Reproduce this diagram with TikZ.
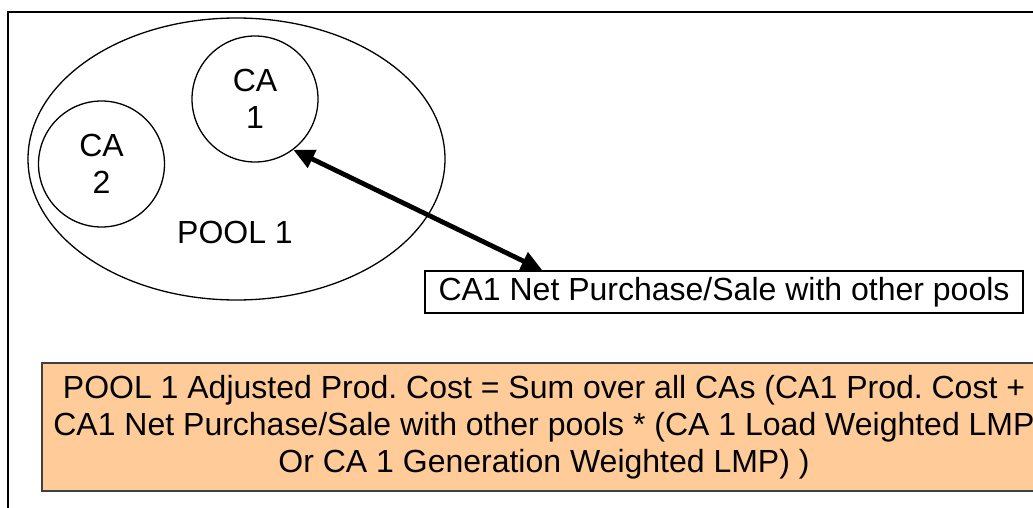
\documentclass[tikz,border=0pt]{standalone}
\usepackage{fontspec}
\setmainfont{Liberation Sans}
\usetikzlibrary{arrows.meta,calc,shapes.geometric}
\definecolor{poolfill}{RGB}{255,204,153}
\frenchspacing
\begin{document}
\begin{tikzpicture}[x=1pt,y=-1pt,
  every node/.style={font=\fontsize{32}{37}\selectfont, inner sep=0pt},
  area/.style={draw, circle, line width=1.3pt, minimum size=126pt, align=center},
  poolshape/.style={draw, ellipse, line width=1.3pt, minimum width=417pt, minimum height=282pt},
  notebox/.style={draw, line width=1.5pt, minimum width=598pt, minimum height=42pt},
  formula/.style={draw=black!75, fill=poolfill, line width=1.5pt, minimum width=1004pt,
    minimum height=128pt, align=center},
  flow/.style={line width=4.8pt, {Triangle[length=21pt,width=19pt]}-{Triangle[length=21pt,width=19pt]}}
]
\useasboundingbox (0,0) rectangle (1033,508);
\clip (0,0) rectangle (1033,508);

% outer frame
\draw[line width=2.2pt] (8,12) rectangle (1100,560);

% pool with its control areas
\node[poolshape] (pool) at (236.5,159) {};
\node (poollabel) at (235,232) {POOL 1};
\node[area] (ca1) at (255,99) {CA\\1};
\node[area] (ca2) at (101.5,164) {CA\\2};

% exchange with other pools
\node[notebox] (net) at (724,292) {CA1 Net Purchase/Sale with other pools};
\coordinate (nettop) at ($(net.north west)!0.197!(net.north east)$);
\draw[flow] (ca1.-53) -- (nettop);

% adjusted production cost
\node[formula] (adj) at (544,427) {POOL 1 Adjusted Prod. Cost = Sum over all CAs (CA1 Prod. Cost + \\
CA1 Net Purchase/Sale with other pools * (CA 1 Load Weighted LMP\\
Or CA 1 Generation Weighted LMP) )};
\end{tikzpicture}
\end{document}
